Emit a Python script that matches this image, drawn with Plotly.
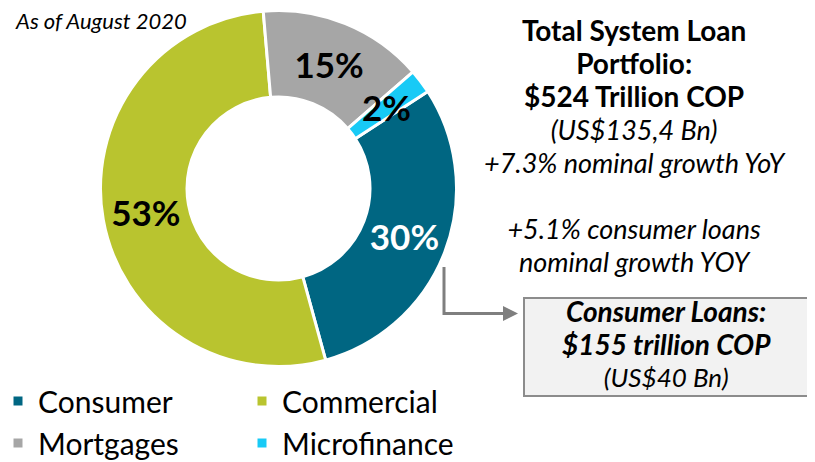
import math
import plotly.graph_objects as go

# ---- data ----
categories = ["Consumer", "Commercial", "Mortgages", "Microfinance"]
shares = [29.9, 52.9, 15.0, 2.2]
colors = ["#006682", "#B9C42F", "#A6A6A6", "#18CAF6"]
label_colors = ["white", "black", "black", "black"]

W, H = 815, 462
OFF = 8  # page body margin in the browser
ML, MR, MT, MB = 0, 200, 0, 95
PW, PH = W - ML - MR, H - MT - MB

def px(x):
    return (x - OFF - ML) / PW

def py(y):
    return 1 - (y - OFF - MT) / PH

FONT = "Lato"
cx, cy, R = 278.5, 188.5, 178
HOLE = 0.514
ROT = 57
SMALL = 5  # slices below this share get their label as an annotation

inside_text = ["%{percent:.0%}" if s >= SMALL else "" for s in shares]

fig = go.Figure()
fig.add_trace(go.Pie(
    labels=categories,
    values=shares,
    sort=False,
    direction="clockwise",
    rotation=ROT,
    hole=HOLE,
    marker=dict(colors=colors, line=dict(color="white", width=3)),
    texttemplate=inside_text,
    textposition="inside",
    insidetextorientation="horizontal",
    insidetextfont=dict(family=FONT, size=35, color=label_colors, weight="bold"),
    domain=dict(x=[px(cx - R), px(cx + R)], y=[py(cy + R), py(cy - R)]),
    hoverinfo="label+percent",
))

ann = []
# labels of small slices, placed at the slice's mid-angle on the ring's middle
total = sum(shares)
cum = 0.0
for cat, s, col in zip(categories, shares, label_colors):
    if s < SMALL:
        mid = math.radians(ROT + 360 * (cum + s / 2) / total)
        rm = R * (1 + HOLE) / 2
        ann.append(dict(text=f"<b>{round(100 * s / total)}%</b>",
                        x=px(cx + rm * math.sin(mid)), y=py(cy - rm * math.cos(mid)),
                        xanchor="center", yanchor="middle", showarrow=False,
                        font=dict(family=FONT, size=35, color=col)))
    cum += s

ann.append(dict(text="<i>As of August 2020</i>", x=px(13), y=py(20), xanchor="left",
                yanchor="middle", showarrow=False,
                font=dict(family=FONT, size=22, color="black")))

def span(t, size):
    return f'<span style="font-size:{size}px">{t}</span>'

right_text = "<br>".join([
    span("<b>Total System Loan</b>", 28),
    span("<b>Portfolio:</b>", 28),
    span("<b>$524 Trillion COP</b>", 28),
    span("<i>(US$135,4 Bn)</i>", 27),
    span("<i>+7.3% nominal growth YoY</i>", 27),
    " ",
    span("<i>+5.1% consumer loans</i>", 27),
    span("<i>nominal growth YOY</i>", 27),
])
ann.append(dict(text=right_text, x=px(635), y=py(145), xanchor="center", yanchor="middle",
                align="center", showarrow=False,
                font=dict(family=FONT, size=25.4, color="black")))

box_text = "<br>".join([
    span("<b><i>Consumer Loans:</i></b>", 28),
    span("<b><i>$155 trillion COP</i></b>", 28),
    span("<i>(US$40 Bn)</i>", 26),
])
ann.append(dict(text=box_text, x=px(666), y=py(343), xanchor="center", yanchor="middle",
                align="center", showarrow=False,
                font=dict(family=FONT, size=25, color="black")))

# arrow (horizontal segment)
ann.append(dict(text="", x=px(518), y=py(313.5), ax=-75, ay=0,
                axref="pixel", ayref="pixel",
                showarrow=True, arrowhead=2, arrowsize=1, arrowwidth=3,
                arrowcolor="#7F7F7F"))
for a in ann:
    a.setdefault("xref", "paper")
    a.setdefault("yref", "paper")

shapes = [
    dict(type="line", xref="paper", yref="paper",
         x0=px(444), x1=px(444), y0=py(267), y1=py(315),
         line=dict(color="#7F7F7F", width=3)),
    dict(type="rect", xref="paper", yref="paper",
         x0=px(524), x1=px(811), y0=py(298), y1=py(396),
         fillcolor="#F2F2F2", line=dict(color="#8C8C8C", width=2), layer="below"),
]

fig.update_layout(
    width=W, height=H,
    margin=dict(l=ML, r=MR, t=MT, b=MB, autoexpand=False),
    paper_bgcolor="white",
    plot_bgcolor="white",
    font=dict(family=FONT, color="black"),
    uniformtext=dict(mode="show", minsize=35),
    annotations=ann,
    shapes=shapes,
    legend=dict(orientation="h", x=-10 / PW, y=0, xanchor="left", yanchor="top",
                font=dict(family=FONT, size=30, color="black"),
                entrywidth=199, entrywidthmode="pixels",
                bgcolor="rgba(0,0,0,0)", traceorder="normal"),
    showlegend=True,
)

fig.write_html("out.html")
